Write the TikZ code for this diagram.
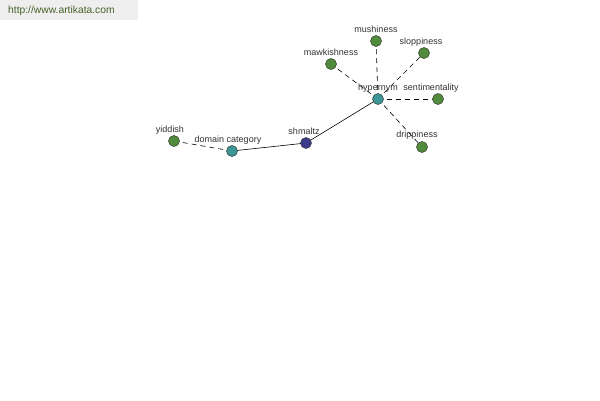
\documentclass[tikz,border=0pt]{standalone}
\usepackage{fontspec}
\setmainfont{Liberation Sans}
\definecolor{nodegreen}{RGB}{80,140,60}
\definecolor{nodeteal}{RGB}{60,150,150}
\definecolor{nodenavy}{RGB}{60,60,140}
\definecolor{labelgray}{RGB}{50,50,50}
\definecolor{urlbg}{RGB}{238,238,238}
\definecolor{urltext}{RGB}{70,100,40}
\tikzset{
  dot/.style={circle, draw=black!80, line width=0.5pt, minimum size=11pt, inner sep=0pt},
  gdot/.style={dot, fill=nodegreen},
  tdot/.style={dot, fill=nodeteal},
  ndot/.style={dot, fill=nodenavy},
  lbl/.style={font=\fontsize{9}{10}\selectfont, text=labelgray, inner sep=0pt},
  dashedge/.style={draw=black, line width=0.6pt, dash pattern=on 5pt off 4pt},
  solidedge/.style={draw=black, line width=0.6pt}
}
\begin{document}
\begin{tikzpicture}[x=1pt,y=-1pt]
\useasboundingbox[fill=white] (0,0) rectangle (600,400);
\fill[urlbg] (0,0) rectangle (138,20);
\node[font=\fontsize{10.3}{11}\selectfont, text=urltext, anchor=west, inner sep=0pt] (url) at (8,11) {http://www.artikata.com};
% edges first
\coordinate (hyp) at (378,99);
\coordinate (mus) at (376,41);
\coordinate (slo) at (424,53);
\coordinate (maw) at (331,64);
\coordinate (sen) at (438,99);
\coordinate (dri) at (422,147);
\coordinate (shm) at (306,143);
\coordinate (dom) at (232,151);
\coordinate (yid) at (174,141);
\draw[dashedge] (hyp) -- (mus);
\draw[dashedge] (hyp) -- (slo);
\draw[dashedge] (hyp) -- (maw);
\draw[dashedge] (hyp) -- (sen);
\draw[dashedge] (hyp) -- (dri);
\draw[dashedge] (dom) -- (yid);
\draw[solidedge] (hyp) -- (shm);
\draw[solidedge] (shm) -- (dom);
% nodes
\node[tdot] (nhyp) at (hyp) {};
\node[gdot] (nmus) at (mus) {};
\node[gdot] (nslo) at (slo) {};
\node[gdot] (nmaw) at (maw) {};
\node[gdot] (nsen) at (sen) {};
\node[gdot] (ndri) at (dri) {};
\node[ndot] (nshm) at (shm) {};
\node[tdot] (ndom) at (dom) {};
\node[gdot] (nyid) at (yid) {};
% labels
\node[lbl] (lhyp) at (378,88) {hypernym};
\node[lbl] (lmus) at (376,29) {mushiness};
\node[lbl] (lslo) at (421,42) {sloppiness};
\node[lbl] (lmaw) at (331,52) {mawkishness};
\node[lbl] (lsen) at (431,88) {sentimentality};
\node[lbl] (ldri) at (417,135) {drippiness};
\node[lbl] (lshm) at (304,131) {shmaltz};
\node[lbl] (ldom) at (228,140) {domain category};
\node[lbl] (lyid) at (170,130) {yiddish};
\end{tikzpicture}
\end{document}
